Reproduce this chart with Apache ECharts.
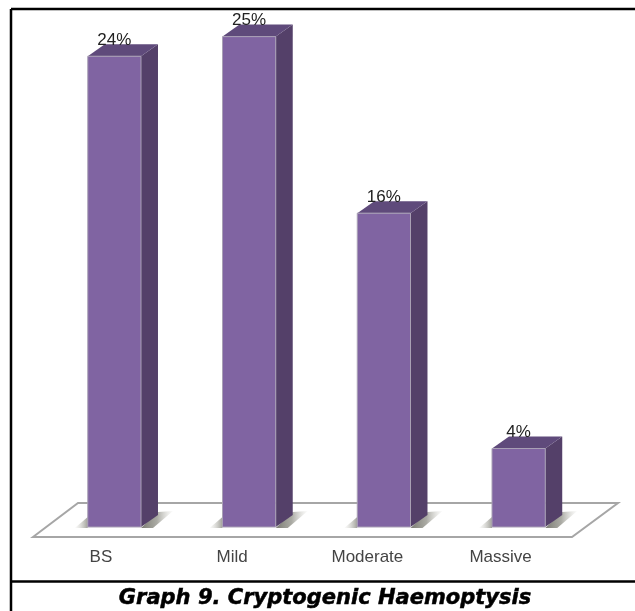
<!DOCTYPE html>
<html>
<head>
<meta charset="utf-8">
<style>html,body{margin:0;padding:0;background:#fff}#chart{width:635px;height:611px}</style>
<script src="https://cdn.jsdelivr.net/npm/echarts@6/dist/echarts.min.js"></script>
</head>
<body>
<div id="chart"></div>
<script>
// Haemoptysis severity in cryptogenic cases
var categories = ['BS', 'Mild', 'Moderate', 'Massive'];
var percentages = [24, 25, 16, 4];
var labelShifts = [27, 34, 33, 36];
var chartTitle = 'Graph 9. Cryptogenic Haemoptysis';

var FRONT = '#8064A2', SIDE = '#544069', TOP = '#5F4A7B', EDGE = '#A9A0B5';
var DEPTH_X = 17, DEPTH_Y = 12, BAR_RATIO = 0.395;

function poly(points, fill, z2, stroke) {
  return {
    type: 'polygon',
    shape: { points: points },
    style: { fill: fill, stroke: stroke || null, lineWidth: stroke ? 1 : 0 },
    z2: z2
  };
}

// Bar drawn as a box: front face, right side, top, and a soft shadow on the floor
function renderBar(params, api) {
  var idx = api.value(0), val = api.value(1);
  var top = api.coord([idx, val]);
  var base = api.coord([idx, 0]);
  var w = api.size([1, 0])[0] * BAR_RATIO;
  var l = top[0] - w / 2, r = top[0] + w / 2;
  var shadow = new echarts.graphic.LinearGradient(0, 0, 1, 0, [
    { offset: 0, color: 'rgba(100,100,90,0.85)' },
    { offset: 0.5, color: 'rgba(125,125,115,0.65)' },
    { offset: 1, color: 'rgba(190,190,180,0.05)' }
  ]);
  var leftShadow = new echarts.graphic.LinearGradient(0, 0, 1, 0, [
    { offset: 0, color: 'rgba(190,190,180,0.05)' },
    { offset: 1, color: 'rgba(120,120,110,0.7)' }
  ]);
  return {
    type: 'group',
    children: [
      poly([[r, base[1] + 1], [r + DEPTH_X, base[1] - DEPTH_Y - 3], [r + DEPTH_X + 15, base[1] - DEPTH_Y - 4], [r + 12, base[1] + 1]], shadow, 1),
      poly([[l - 13, base[1] + 1], [l, base[1] - 10], [l, base[1] + 1]], leftShadow, 1),
      poly([[r, top[1]], [r + DEPTH_X, top[1] - DEPTH_Y], [r + DEPTH_X, base[1] - DEPTH_Y], [r, base[1]]], SIDE, 2),
      poly([[l, top[1]], [l + DEPTH_X, top[1] - DEPTH_Y], [r + DEPTH_X, top[1] - DEPTH_Y], [r, top[1]]], TOP, 2),
      poly([[l, top[1]], [r, top[1]], [r, base[1]], [l, base[1]]], FRONT, 3, EDGE),
      {
        type: 'text',
        z2: 5,
        style: {
          x: top[0],
          y: top[1] - 16,
          text: val + '%',
          fill: '#222',
          font: '17px "Liberation Sans"',
          align: 'center',
          verticalAlign: 'middle'
        }
      }
    ]
  };
}

// Floor plane under the bars, spanned from the plot area's extent
function renderFloor(params, api) {
  var cs = params.coordSys;
  var y = api.coord([0, 0])[1];
  return {
    type: 'polygon',
    shape: {
      points: [
        [cs.x - 14, y + 10],
        [cs.x + 31, y - 24],
        [cs.x + cs.width + 32, y - 24],
        [cs.x + cs.width - 14, y + 10]
      ]
    },
    style: { fill: '#fff', stroke: '#A6A6A6', lineWidth: 2 }
  };
}

var chart = echarts.init(document.getElementById('chart'), null, { renderer: 'canvas' });
chart.setOption({
  animation: false,
  backgroundColor: '#fff',
  grid: { left: 47, right: 49, top: 17, bottom: 84 },
  graphic: [
    { type: 'line', shape: { x1: 11, y1: 9, x2: 635, y2: 9 }, style: { stroke: '#000', lineWidth: 2.5 }, silent: true },
    { type: 'line', shape: { x1: 11, y1: 9, x2: 11, y2: 611 }, style: { stroke: '#000', lineWidth: 2.5 }, silent: true },
    { type: 'line', shape: { x1: 11, y1: 581.5, x2: 635, y2: 581.5 }, style: { stroke: '#000', lineWidth: 2.5 }, silent: true },
    {
      type: 'text',
      style: {
        x: 325, y: 599,
        text: chartTitle,
        font: 'italic bold 21px "DejaVu Sans"',
        fill: '#000',
        stroke: '#000',
        lineWidth: 0.5,
        align: 'center',
        verticalAlign: 'middle'
      }
    }
  ],
  xAxis: {
    type: 'category',
    data: categories.map(function (c, i) {
      return { value: c, textStyle: { padding: [0, labelShifts[i], 0, 0] } };
    }),
    axisLine: { show: false },
    axisTick: { show: false },
    axisLabel: { fontFamily: 'Liberation Sans', fontSize: 17, color: '#444', margin: 22, interval: 0 }
  },
  yAxis: { type: 'value', min: 0, max: 26, show: false, splitLine: { show: false } },
  series: [
    { type: 'custom', z: 1, renderItem: renderFloor, data: [[0, 0]], silent: true },
    {
      type: 'custom',
      z: 2,
      renderItem: renderBar,
      data: percentages.map(function (v, i) { return [i, v]; }),
      encode: { x: 0, y: 1 }
    }
  ]
});
</script>
</body>
</html>
